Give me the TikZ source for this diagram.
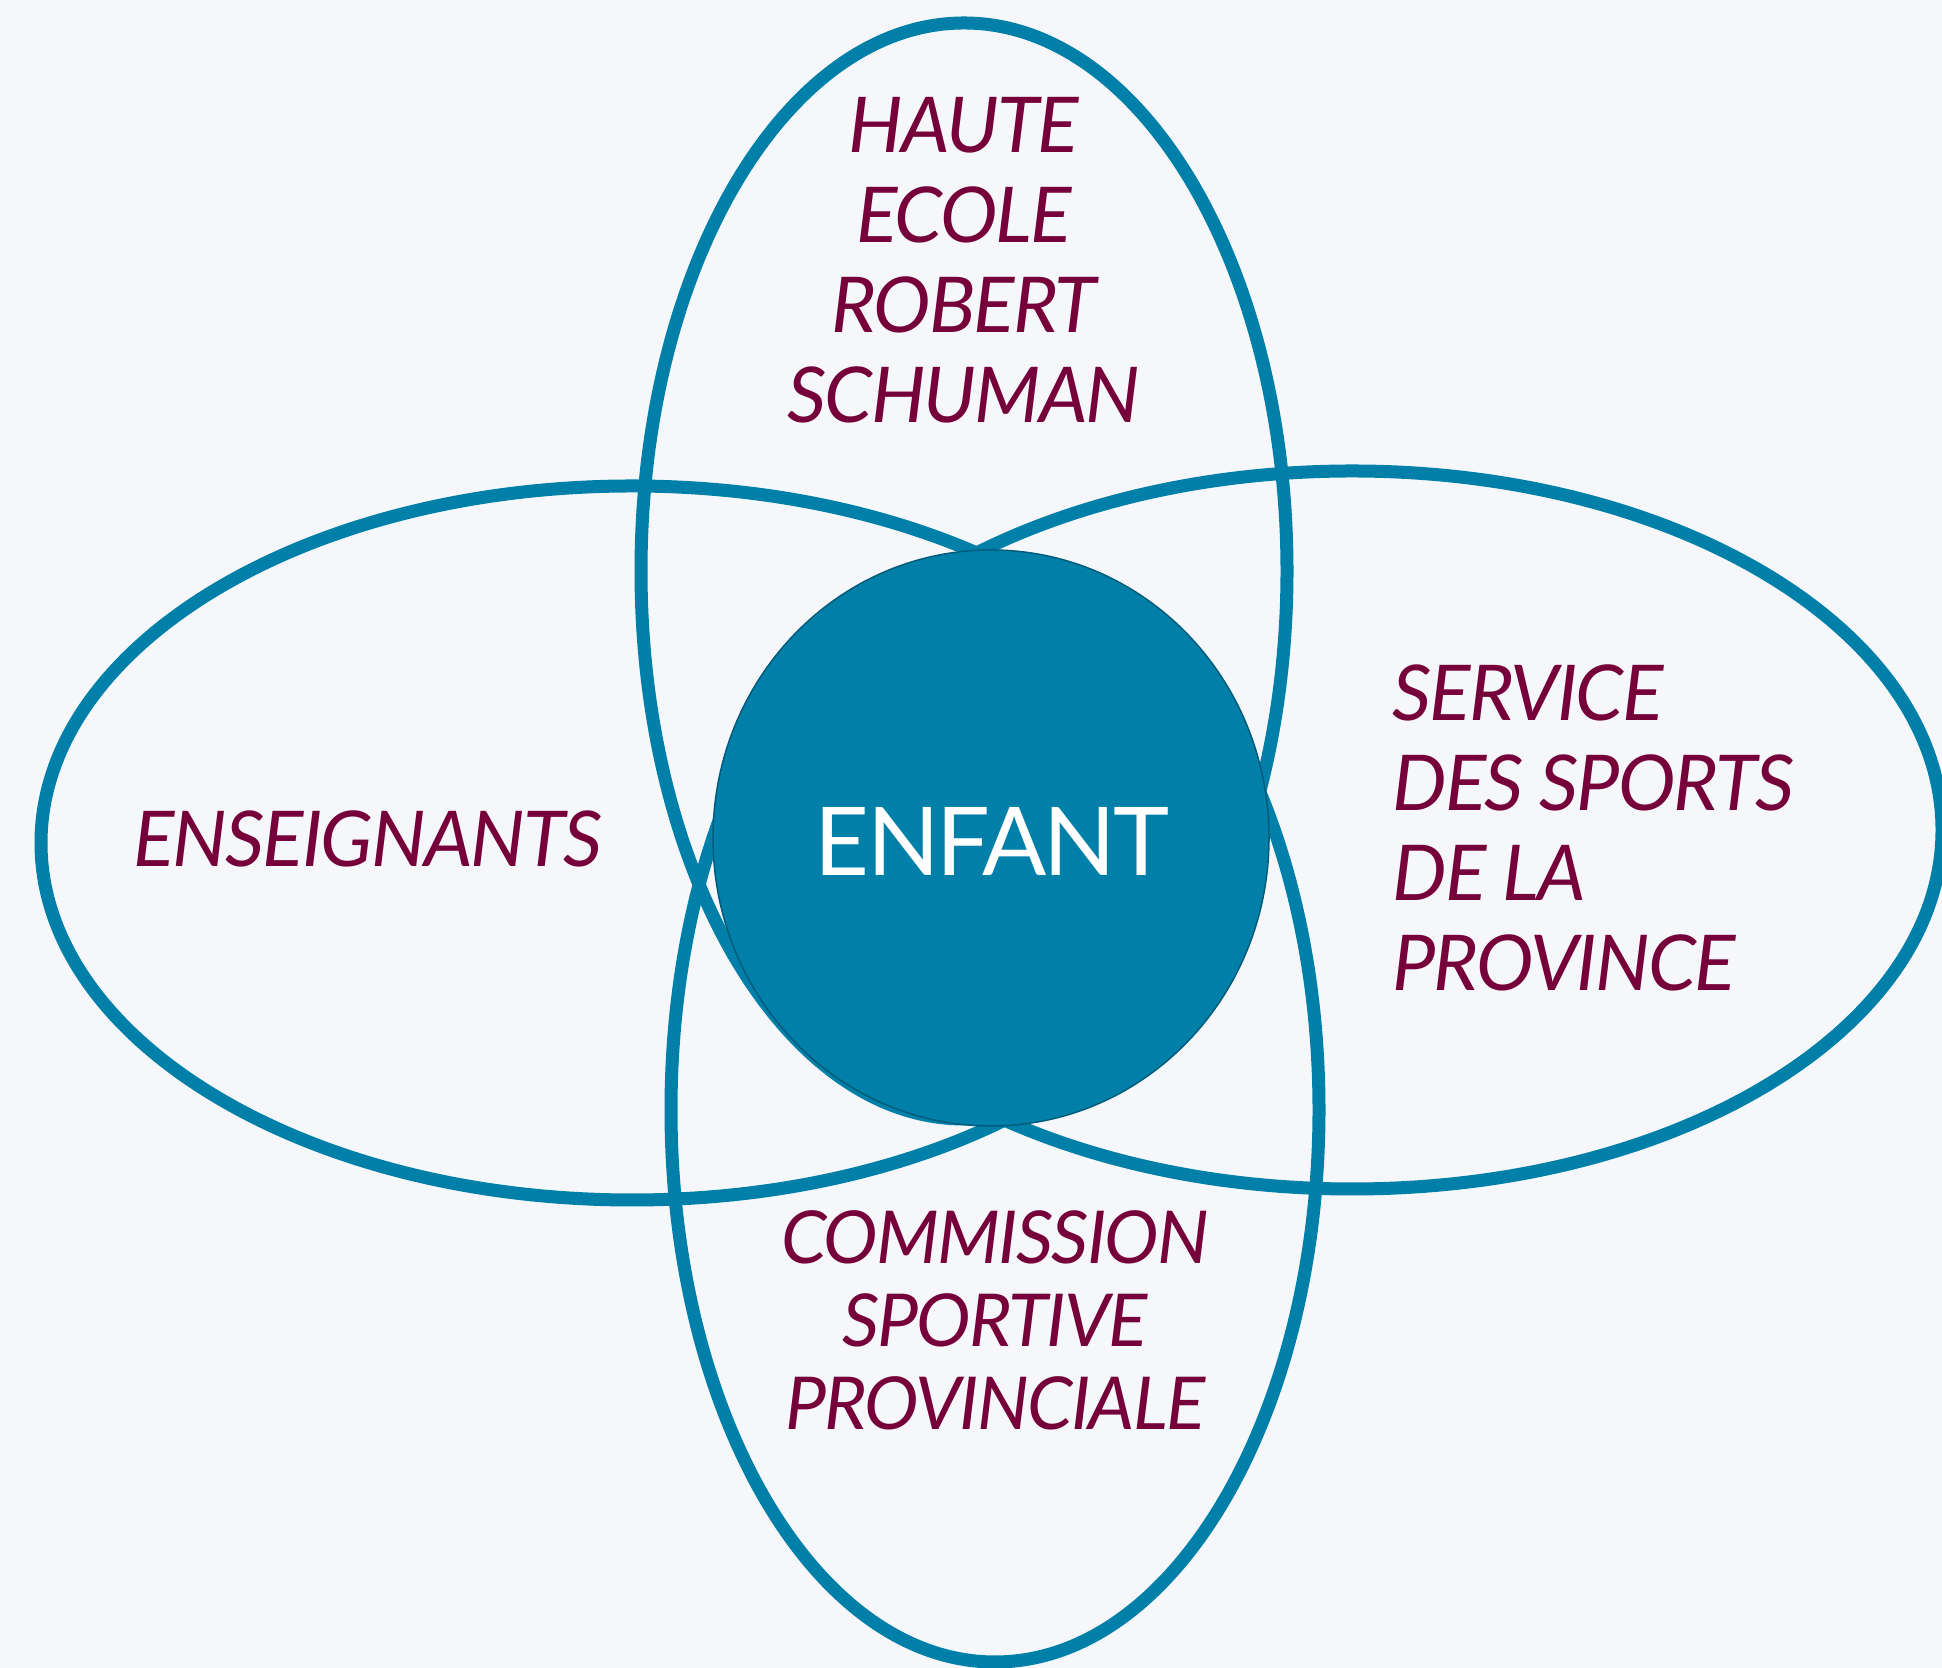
\documentclass[tikz,border=0pt]{standalone}
\usepackage{fontspec}
\setmainfont{Lato}[LetterSpace=-2.5]
\newfontfamily\enffont{Lato}[LetterSpace=-3]
\definecolor{bgcol}{RGB}{245,247,251}
\definecolor{petrol}{RGB}{0,128,168}
\definecolor{petroldark}{RGB}{0,92,122}
\definecolor{prune}{RGB}{117,0,58}
\tikzset{
	ring/.style={draw=petrol,line width=6.5pt},
	lbl/.style={text=prune,font=\fontsize{38.5}{45}\selectfont\itshape,inner sep=0pt},
}
\begin{document}
\begin{tikzpicture}[x=0.5pt,y=0.5pt]
		%
		\fill[bgcol] (0,0) rectangle (1942,1668);
		\useasboundingbox (0,0) rectangle (1942,1668);
		%
		\draw[ring] (964,1097) ellipse [x radius=323, y radius=548];
		\draw[ring] (995,558) ellipse [x radius=324, y radius=552];
		\draw[ring] (632,825) ellipse [x radius=591, y radius=357];
		\draw[ring] (1352,838) ellipse [x radius=590, y radius=359];
		%
		\filldraw[fill=petrol,draw=petroldark,line width=0.75pt]
		(991,830) ellipse [x radius=278, y radius=288];
		%
		\node[lbl,align=center,anchor=south] (hers) at (964,1244)
		{HAUTE\\ECOLE\\ROBERT\\SCHUMAN};
		\node[lbl,anchor=base] (ens) at (368,801) {ENSEIGNANTS};
		\node[lbl,align=left,anchor=south west] (sdsp) at (1392,676)
		{SERVICE\\DES SPORTS\\DE LA\\PROVINCE};
		\node[lbl,font=\fontsize{36.5}{41.5}\selectfont\itshape,align=center,anchor=south] (csp) at (995,238)
		{COMMISSION\\SPORTIVE\\PROVINCIALE};
		%
		\node[text=white,font=\enffont\fontsize{47.5}{50}\selectfont,inner sep=0pt,anchor=base] (enf) at (992,792) {ENFANT};
		\end{tikzpicture}
\end{document}
